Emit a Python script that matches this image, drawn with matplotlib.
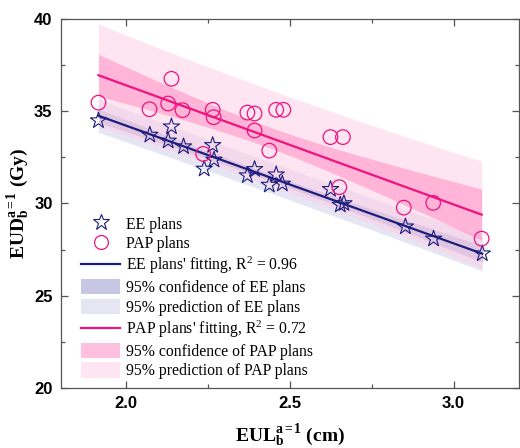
import numpy as np
import matplotlib.pyplot as plt
from matplotlib.patches import Patch
from matplotlib.lines import Line2D

plt.rcParams['font.family'] = 'Liberation Serif'
plt.rcParams['mathtext.fontset'] = 'custom'
plt.rcParams['mathtext.rm'] = 'Liberation Serif'
plt.rcParams['mathtext.bf'] = 'Liberation Serif:bold'
plt.rcParams['mathtext.it'] = 'Liberation Serif:italic'

# EE plans (stars)
ee_x = [1.915, 2.072, 2.128, 2.138, 2.175, 2.238, 2.264, 2.268, 2.370, 2.392,
        2.437, 2.458, 2.477, 2.624, 2.654, 2.665, 2.853, 2.939, 3.088]
ee_y = [34.49, 33.71, 33.39, 34.16, 33.08, 31.87, 33.15, 32.36, 31.51, 31.85,
        31.00, 31.56, 31.06, 30.77, 29.92, 30.00, 28.74, 28.08, 27.28]

# PAP plans (circles)
pap_x = [1.915, 2.071, 2.128, 2.138, 2.172, 2.235, 2.264, 2.267, 2.370, 2.392,
         2.392, 2.437, 2.458, 2.480, 2.624, 2.651, 2.662, 2.848, 2.938, 3.086]
pap_y = [35.46, 35.10, 35.41, 36.75, 35.05, 32.68, 35.07, 34.67, 34.92, 34.87,
         33.95, 32.86, 35.07, 35.07, 33.59, 30.88, 33.59, 29.77, 30.03, 28.09]

ee_r2 = '0.96'
pap_r2 = '0.72'

ee_line = '#1c1c7c'
ee_conf = '#9999cc'
ee_pred = '#d0d0ea'
pap_line = '#f0127e'
pap_conf = '#ff8cc4'
pap_pred = '#ffd0e6'


def fit_bands(x, y, t=2.10):
    x = np.asarray(x)
    y = np.asarray(y)
    n = len(x)
    b, a = np.polyfit(x, y, 1)
    resid = y - (a + b * x)
    s = np.sqrt(np.sum(resid ** 2) / (n - 2))
    xm = x.mean()
    sxx = np.sum((x - xm) ** 2)
    xs = np.linspace(x.min(), x.max(), 200)
    yf = a + b * xs
    h = 1.0 / n + (xs - xm) ** 2 / sxx
    conf = t * s * np.sqrt(h)
    pred = t * s * np.sqrt(1 + h)
    return xs, yf, conf, pred


fig = plt.figure(figsize=(5.2, 4.48), dpi=100)
ax = fig.add_axes([0.117, 0.134, 0.881, 0.824])

xs, yf, conf, pred = fit_bands(ee_x, ee_y)
ax.fill_between(xs, yf - pred, yf + pred, color=ee_pred, alpha=0.55, lw=0, zorder=1)
ax.fill_between(xs, yf - conf, yf + conf, color=ee_conf, alpha=0.55, lw=0, zorder=1)
ax.plot(xs, yf, color=ee_line, lw=1.6, zorder=4)

xs2, yf2, conf2, pred2 = fit_bands(pap_x, pap_y)
ax.fill_between(xs2, yf2 - pred2, yf2 + pred2, color=pap_pred, alpha=0.55, lw=0, zorder=2)
ax.fill_between(xs2, yf2 - conf2, yf2 + conf2, color=pap_conf, alpha=0.55, lw=0, zorder=2)
ax.plot(xs2, yf2, color=pap_line, lw=1.6, zorder=4)

ax.scatter(ee_x, ee_y, marker='*', s=150, facecolors='none', edgecolors=ee_line,
           linewidths=0.8, zorder=5)
ax.scatter(pap_x, pap_y, marker='o', s=110, facecolors='none', edgecolors=pap_line,
           linewidths=0.9, zorder=5)

ax.set_xlim(1.8, 3.2)
ax.set_ylim(20, 40)
ax.set_xticks([2.0, 2.5, 3.0])
ax.set_xticks([2.25, 2.75], minor=True)
ax.set_yticks([20, 25, 30, 35, 40])
ax.set_yticks([22.5, 27.5, 32.5, 37.5], minor=True)
ax.tick_params(which='both', direction='in', top=True, right=True, color='#555555')
ax.tick_params(which='major', length=5, width=0.9, labelsize=12, pad=6)
ax.tick_params(which='minor', length=3, width=0.9)
for lab in ax.get_xticklabels() + ax.get_yticklabels():
    lab.set_family('Liberation Sans')
    lab.set_fontweight('bold')
for sp in ax.spines.values():
    sp.set_color('#555555')
    sp.set_linewidth(0.9)

ax.set_xlabel(r'$\mathbf{EUL}_{\mathbf{b}}^{\mathbf{a=1}}$ (cm)', fontsize=14,
              fontweight='bold', labelpad=8)
ax.set_ylabel(r'$\mathbf{EUD}_{\mathbf{b}}^{\mathbf{a=1}}$ (Gy)', fontsize=14,
              fontweight='bold', labelpad=2)

handles = [
    Line2D([], [], marker='*', ls='none', markersize=12, markerfacecolor='none',
           markeredgecolor=ee_line, markeredgewidth=0.8),
    Line2D([], [], marker='o', ls='none', markersize=10, markerfacecolor='none',
           markeredgecolor=pap_line, markeredgewidth=0.9),
    Line2D([], [], color=ee_line, lw=1.6),
    Patch(facecolor=ee_conf, alpha=0.55, lw=0),
    Patch(facecolor=ee_pred, alpha=0.55, lw=0),
    Line2D([], [], color=pap_line, lw=1.6),
    Patch(facecolor=pap_conf, alpha=0.55, lw=0),
    Patch(facecolor=pap_pred, alpha=0.55, lw=0),
]
labels = [
    'EE plans',
    'PAP plans',
    "EE plans' fitting, R$^2$ = " + ee_r2,
    '95% confidence of EE plans',
    '95% prediction of EE plans',
    "PAP plans' fitting, R$^2$ = " + pap_r2,
    '95% confidence of PAP plans',
    '95% prediction of PAP plans',
]
ax.legend(handles, labels, loc='lower left', frameon=False, fontsize=11.3,
          handlelength=2.5, handleheight=1.1, labelspacing=0.18,
          handletextpad=0.4, borderaxespad=0.15, bbox_to_anchor=(0.025, 0.0))

fig.savefig('out.png', dpi=100)
